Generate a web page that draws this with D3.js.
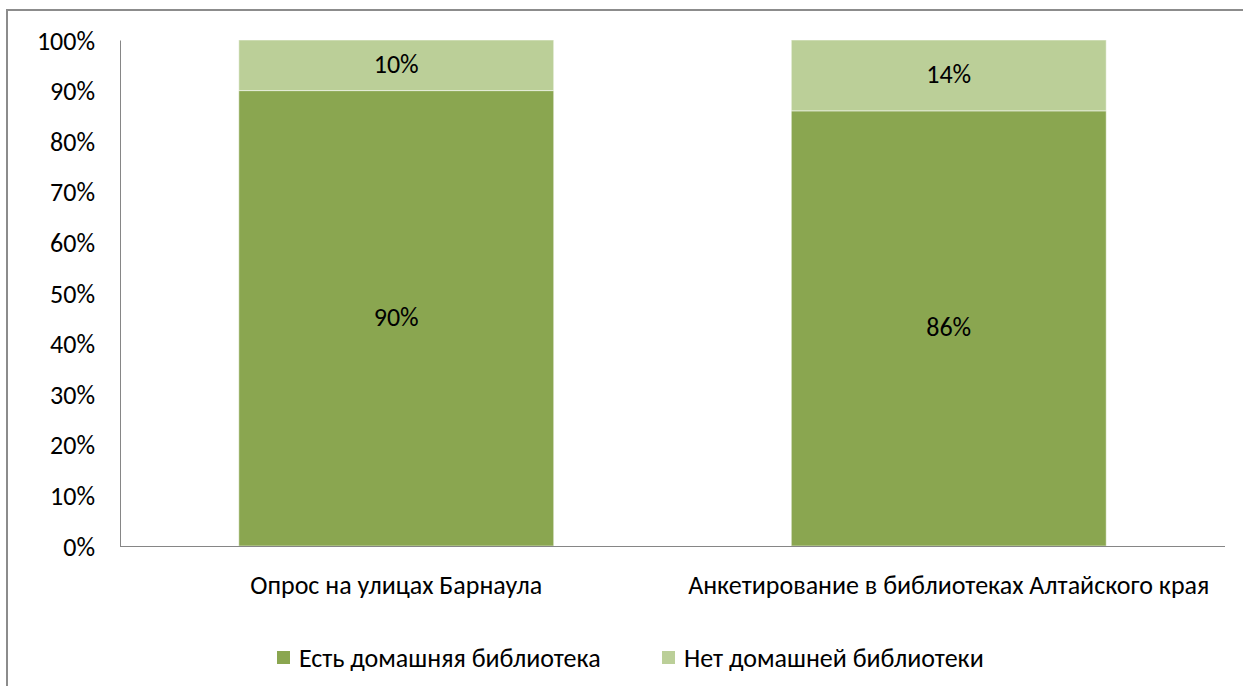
<!DOCTYPE html>
<html lang="ru">
<head>
<meta charset="UTF-8">
<title>Домашняя библиотека</title>
<style>
    body { margin: 0; background: #fff; }
    svg { display: block; font-family: Carlito, Calibri, Lato, sans-serif; }
    .frame { fill: none; stroke: #8c8c8c; stroke-width: 2px; }
    .axis path, .axis line { stroke: #868686; }
    .axis text { font-size: 26px; fill: #000; }
    .lbl { font-size: 26px; fill: #000; }
</style>
</head>
<body>
<svg id="chart" width="1243" height="686"></svg>
<script src="https://d3js.org/d3.v7.min.js"></script>
<script>
const categories = ['Опрос на улицах Барнаула', 'Анкетирование в библиотеках Алтайского края'];
const seriesNames = ['Есть домашняя библиотека', 'Нет домашней библиотеки'];
const hasLibrary = [90, 86];
const noLibrary = [10, 14];
const colors = ['#8aa650', '#bbcf98'];
const yTicks = [0, 10, 20, 30, 40, 50, 60, 70, 80, 90, 100];

const svg = d3.select('#chart');
const margin = {left: 120, right: 18, top: 40, bottom: 140};
const W = +svg.attr('width'), H = +svg.attr('height');

// chart border (runs past right and bottom edges like the original)
svg.append('rect').attr('class', 'frame')
    .attr('x', 7).attr('y', 10).attr('width', 1260).attr('height', 700);

const x = d3.scaleBand().domain(categories)
    .range([margin.left, W - margin.right]).paddingInner(0.43).paddingOuter(0.215);
const y = d3.scaleLinear().domain([0, 100]).range([H - margin.bottom, margin.top]);

// stacked data
const rows = categories.map((c, i) => ({cat: c, v: [hasLibrary[i], noLibrary[i]]}));
const stack = d3.stack().keys([0, 1]).value((d, k) => d.v[k]);
const layers = stack(rows);

const g = svg.append('g');
layers.forEach((layer, k) => {
    g.selectAll(null).data(layer).enter().append('rect')
        .attr('x', d => x(d.data.cat))
        .attr('width', x.bandwidth())
        .attr('y', d => y(d[1]))
        .attr('height', d => y(d[0]) - y(d[1]))
        .attr('fill', colors[k])
        .attr('stroke', '#fff').attr('stroke-opacity', 0.5).attr('stroke-width', 1);
    g.selectAll(null).data(layer).enter().append('text')
        .attr('class', 'lbl')
        .attr('text-anchor', 'middle')
        .attr('x', d => x(d.data.cat) + x.bandwidth() / 2)
        .attr('y', d => (y(d[0]) + y(d[1])) / 2 + 8)
        .text(d => (d[1] - d[0]) + '%');
});

// y axis
const yAxis = svg.append('g').attr('class', 'axis')
    .attr('transform', `translate(${margin.left},0)`)
    .call(d3.axisLeft(y).tickValues(yTicks).tickFormat(d => d + '%').tickSize(0).tickPadding(25));
yAxis.attr('font-family', null).attr('font-size', null);
yAxis.selectAll('text').attr('dy', '0.35em');

// x axis
const xAxis = svg.append('g').attr('class', 'axis')
    .attr('transform', `translate(0,${H - margin.bottom})`)
    .call(d3.axisBottom(x).tickSize(0).tickPadding(30));
xAxis.attr('font-family', null).attr('font-size', null);
xAxis.select('.domain').attr('d', `M${margin.left},0.5H${W - margin.right}`);

// legend
const legendX = [277, 662];
const legend = svg.append('g');
seriesNames.forEach((s, i) => {
    legend.append('rect').attr('x', legendX[i]).attr('y', 651)
        .attr('width', 13).attr('height', 13).attr('fill', colors[i]);
    legend.append('text').attr('class', 'lbl')
        .attr('x', legendX[i] + 22).attr('y', 667).text(s);
});
</script>
</body>
</html>
